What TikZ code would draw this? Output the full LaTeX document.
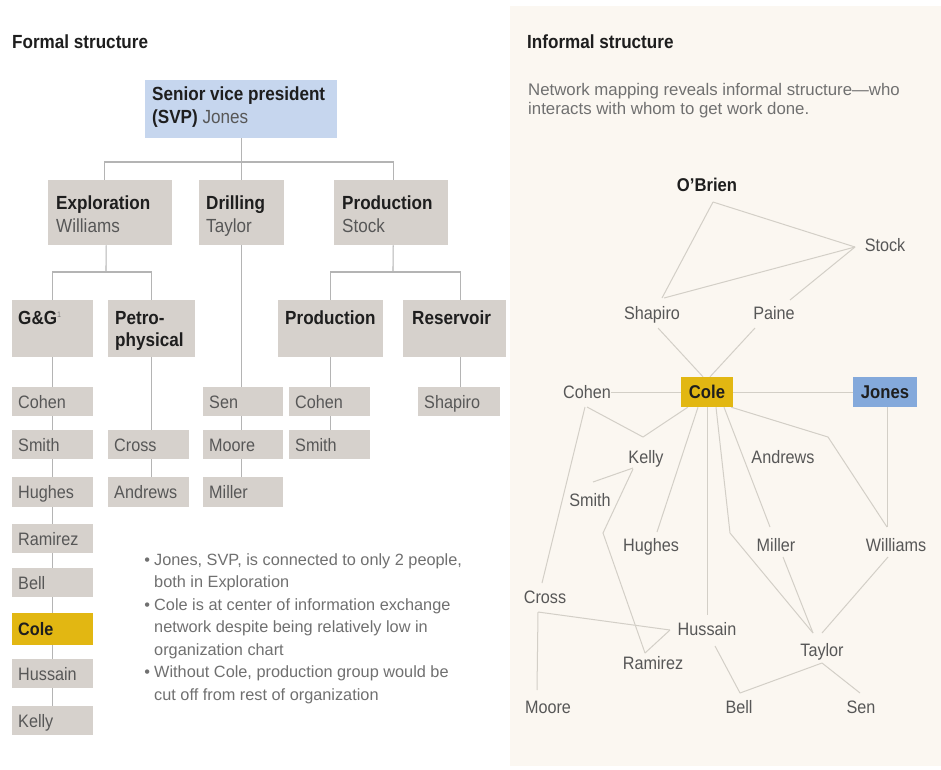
\documentclass[tikz,border=0pt]{standalone}
\usepackage{fontspec}
\setmainfont{Liberation Sans}[FakeStretch=0.9]
\newfontfamily\plainsans{Liberation Sans}
\usetikzlibrary{calc,backgrounds}
\definecolor{boxgray}{HTML}{D6D1CC}
\definecolor{svpblue}{HTML}{C6D6EE}
\definecolor{coleyel}{HTML}{E2B712}
\definecolor{jonesblue}{HTML}{84A9DB}
\definecolor{cream}{HTML}{FBF7F1}
\definecolor{orgline}{HTML}{B4B4B4}
\definecolor{netline}{HTML}{D3CFC7}
\definecolor{txtgray}{HTML}{575757}
\definecolor{txtdark}{HTML}{1E1E1E}
\definecolor{bulgray}{HTML}{707070}
\begin{document}
\begin{tikzpicture}[x=1pt,y=-1pt,
  ttl/.style={anchor=base west,inner sep=0pt,font=\bfseries\fontsize{19}{22}\selectfont,text=txtdark},
  hbox/.style={fill=boxgray,anchor=north west,inner sep=0pt},
  hdrtxt/.style={anchor=north west,inner sep=0pt,align=left,font=\bfseries\fontsize{19}{22.5}\selectfont,text=txtdark},
  pbox/.style={fill=boxgray,anchor=north west,minimum height=29pt,inner xsep=6pt,inner ysep=0pt,
    text width=#1,align=left,font=\fontsize{18}{20}\selectfont,text=txtgray,text height=13pt,text depth=0pt},
  pbox/.default=69pt,
  orgedge/.style={draw=orgline,line width=1.1pt},
  netedge/.style={draw=netline,line width=1pt},
  nettxt/.style={font=\fontsize{18}{20}\selectfont,text=txtgray,inner sep=0pt,text height=13pt,text depth=0pt},
  netbold/.style={nettxt,font=\bfseries\fontsize{18.5}{20}\selectfont,text=txtdark}
]
\useasboundingbox (0,0) rectangle (941,769);

% ---------- titles ----------
\node[ttl] (t1) at (12,48) {Formal structure};
\node[ttl] (t2) at (527,48) {Informal structure};
\node[anchor=north west,inner sep=0pt,align=left,font=\plainsans\fontsize{16.8}{19.5}\selectfont,text=bulgray]
  (sub) at (528,83) {Network mapping reveals informal structure—who\\interacts with whom to get work done.};

% ---------- formal chart boxes ----------
\node[hbox,fill=svpblue,minimum width=192pt,minimum height=58pt] (svp) at (145,80) {};
\node[hdrtxt] (svpT) at ($(svp.north west)+(7,7)$) {Senior vice president\\(SVP) {\mdseries\color{txtgray}Jones}};

\node[hbox,minimum width=124pt,minimum height=65pt] (expl) at (48,180) {};
\node[hbox,minimum width=85pt,minimum height=65pt] (drill) at (199,180) {};
\node[hbox,minimum width=114pt,minimum height=65pt] (prod) at (334,180) {};
\node[hdrtxt] (explT) at ($(expl.north west)+(8,16)$) {Exploration\\{\mdseries\color{txtgray}Williams}};
\node[hdrtxt] (drillT) at ($(drill.north west)+(7,16)$) {Drilling\\{\mdseries\color{txtgray}Taylor}};
\node[hdrtxt] (prodT) at ($(prod.north west)+(8,16)$) {Production\\{\mdseries\color{txtgray}Stock}};

\node[hbox,minimum width=81pt,minimum height=57pt] (gg) at (12,300) {};
\node[hbox,minimum width=87pt,minimum height=57pt] (petro) at (108,300) {};
\node[hbox,minimum width=105pt,minimum height=57pt] (prod3) at (278,300) {};
\node[hbox,minimum width=103pt,minimum height=57pt] (res) at (403,300) {};
\node[hdrtxt] (ggT) at ($(gg.north west)+(6,11)$) {G\&G{\mdseries\color{gray}\fontsize{8}{8}\selectfont\raisebox{7pt}{1}}};
\node[hdrtxt] (petroT) at ($(petro.north west)+(7,11)$) {Petro-\\physical};
\node[hdrtxt] (prod3T) at ($(prod3.north west)+(7,11)$) {Production};
\node[hdrtxt] (resT) at ($(res.north west)+(9,11)$) {Reservoir};

% people: G&G column
\node[pbox] (cohenP) at (12,387) {Cohen};
\node[pbox] (smithP) at (12,430) {Smith};
\node[pbox,minimum height=30pt] (hughesP) at (12,477) {Hughes};
\node[pbox] (ramirezP) at (12,524) {Ramirez};
\node[pbox] (bellP) at (12,568) {Bell};
\node[pbox,fill=coleyel,minimum height=32pt,font=\bfseries\fontsize{18}{20}\selectfont,text=txtdark] (coleP) at (12,613) {Cole};
\node[pbox] (hussainP) at (12,659) {Hussain};
\node[pbox] (kellyP) at (12,706) {Kelly};
% Petro column
\node[pbox] (crossP) at (108,430) {Cross};
\node[pbox,minimum height=30pt] (andrewsP) at (108,477) {Andrews};
% Drilling column
\node[pbox,text width=68pt] (senP) at (203,387) {Sen};
\node[pbox,text width=68pt] (mooreP) at (203,430) {Moore};
\node[pbox,text width=68pt,minimum height=30pt] (millerP) at (203,477) {Miller};
% Production column
\node[pbox] (cohen2P) at (289,387) {Cohen};
\node[pbox] (smith2P) at (289,430) {Smith};
% Reservoir column
\node[pbox,text width=70pt] (shapiroP) at (418,387) {Shapiro};

% notes
\node[anchor=north west,inner sep=0pt,align=left,font=\plainsans\fontsize{16.3}{22.5}\selectfont,text=bulgray]
  (notes) at (154,553) {\llap{•\hspace{4pt}}Jones, SVP, is connected to only 2 people,\\
both in Exploration\\
\llap{•\hspace{4pt}}Cole is at center of information exchange\\
network despite being relatively low in\\
organization chart\\
\llap{•\hspace{4pt}}Without Cole, production group would be\\
cut off from rest of organization};

% ---------- network nodes ----------
\node[netbold] (obrien) at (707,185) {O'Brien};
\node[nettxt] (stock) at (885,245) {Stock};
\node[nettxt] (shapiro) at (652,313) {Shapiro};
\node[nettxt] (paine) at (774,313) {Paine};
\node[nettxt] (cohenN) at (587,392) {Cohen};
\node[netbold,fill=coleyel,minimum width=52pt,minimum height=30pt] (coleN) at (707,392) {Cole};
\node[netbold,fill=jonesblue,minimum width=64pt,minimum height=30pt] (jonesN) at (885,392) {Jones};
\node[nettxt] (kellyN) at (646,457) {Kelly};
\node[nettxt] (andrewsN) at (783,457) {Andrews};
\node[nettxt] (smithN) at (590,500) {Smith};
\node[nettxt] (hughesN) at (651,545) {Hughes};
\node[nettxt] (millerN) at (776,545) {Miller};
\node[nettxt] (williamsN) at (896,545) {Williams};
\node[nettxt] (crossN) at (545,597) {Cross};
\node[nettxt] (hussainN) at (707,629) {Hussain};
\node[nettxt] (taylorN) at (822,650) {Taylor};
\node[nettxt] (ramirezN) at (653,663) {Ramirez};
\node[nettxt] (mooreN) at (548,707) {Moore};
\node[nettxt] (bellN) at (739,707) {Bell};
\node[nettxt] (senN) at (861,707) {Sen};

\coordinate (kbend) at (603,533);
\coordinate (tbend) at (730,533);
\coordinate (wbend) at (828,437);
\coordinate (bus1) at (242,162);
\coordinate (bus2) at (106,272);
\coordinate (bus3) at (393,272);
\coordinate (resx) at ($(res.south)+(6,0)$);

\begin{pgfonlayer}{background}
  \fill[white] (0,0) rectangle (941,769);
  \fill[cream] (510,6) rectangle (941,766);
  % formal connectors
  \draw[orgedge] (svp.south) -- (svp.south |- drill.north);
  \draw[orgedge] ($(expl.north)+(-6,0)$) |- (bus1) -| ($(prod.north)+(2,0)$);
  \draw[orgedge] ($(expl.south)+(-4,0)$) -- (bus2);
  \draw[orgedge] (gg.north) |- (bus2) -| (petro.north);
  \draw[orgedge] ($(prod.south)+(2,0)$) -- (bus3);
  \draw[orgedge] (prod3.north) |- (bus3) -| ($(res.north)+(6,0)$);
  \draw[orgedge] (gg.south) -- (gg.south |- kellyP.north);
  \draw[orgedge] (petro.south) -- (petro.south |- andrewsP.north);
  \draw[orgedge] (drill.south) -- (drill.south |- millerP.north);
  \draw[orgedge] (prod3.south) -- (prod3.south |- smith2P.north);
  \draw[orgedge] (resx) -- (resx |- shapiroP.north);
  % network connectors
  \draw[netedge] ($(obrien)+(6,17)$) -- ($(shapiro)+(10,-15)$);
  \draw[netedge] ($(obrien)+(6,17)$) -- ($(stock)+(-30,2)$);
  \draw[netedge] ($(shapiro)+(12,-15)$) -- ($(stock)+(-30,2)$);
  \draw[netedge] ($(paine)+(16,-13)$) -- ($(stock)+(-30,2)$);
  \draw[netedge] ($(shapiro)+(6,15)$) -- ($(coleN.north)+(-4,0)$);
  \draw[netedge] ($(paine)+(-19,15)$) -- ($(coleN.north)+(3,0)$);
  \draw[netedge] (cohenN.east) -- (coleN.west);
  \draw[netedge] (coleN.east) -- (jonesN.west);
  \draw[netedge] ($(jonesN.south)+(2,0)$) -- ($(williamsN)+(-9,-18)$);
  \draw[netedge] ($(cohenN)+(0,15)$) -- ($(kellyN)+(-3,-20)$);
  \draw[netedge] ($(coleN.south west)+(7,0)$) -- ($(kellyN)+(-3,-20)$);
  \draw[netedge] ($(cohenN)+(-2,15)$) -- ($(crossN)+(-3,-14)$);
  \draw[netedge] ($(kellyN)+(-13,11)$) -- ($(smithN)+(3,-18)$);
  \draw[netedge] ($(kellyN)+(-13,12)$) -- (kbend) -- ($(ramirezN)+(-8,-10)$);
  \draw[netedge] ($(coleN.south)+(-9,0)$) -- ($(hughesN)+(6,-13)$);
  \draw[netedge] (coleN.south) -- ($(hussainN)+(0,-14)$);
  \draw[netedge] ($(coleN.south)+(9,0)$) -- (tbend) -- ($(taylorN)+(-9,-17)$);
  \draw[netedge] ($(coleN.south)+(17,0)$) -- ($(millerN)+(-6,-18)$);
  \draw[netedge] ($(coleN.south east)+(-2,0)$) -- (wbend) -- ($(williamsN)+(-9,-18)$);
  \draw[netedge] ($(millerN)+(7,12)$) -- ($(taylorN)+(-9,-17)$);
  \draw[netedge] ($(williamsN)+(-8,12)$) -- ($(taylorN)+(0,-17)$);
  \draw[netedge] ($(crossN)+(-7,15)$) -- ($(hussainN)+(-37,1)$);
  \draw[netedge] ($(hussainN)+(-37,1)$) -- ($(ramirezN)+(-8,-10)$);
  \draw[netedge] ($(crossN)+(-7,15)$) -- ($(mooreN)+(-11,-17)$);
  \draw[netedge] ($(hussainN)+(8,17)$) -- ($(bellN)+(1,-14)$);
  \draw[netedge] ($(taylorN)+(0,13)$) -- ($(bellN)+(1,-14)$);
  \draw[netedge] ($(taylorN)+(0,13)$) -- ($(senN)+(-1,-14)$);
\end{pgfonlayer}
\end{tikzpicture}
\end{document}
